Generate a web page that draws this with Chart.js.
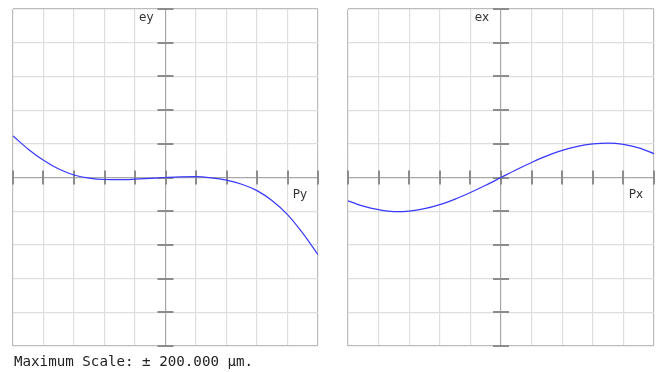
<!DOCTYPE html>
<html>
<head>
<meta charset="utf-8">
<script src="https://cdn.jsdelivr.net/npm/chart.js@4.4.1/dist/chart.umd.min.js"></script>
<style>
  body { margin: 0; background: #fff; width: 656px; height: 372px; position: relative; overflow: hidden; }
  .panel { position: absolute; top: 0; height: 356px; }
  #leftWrap { left: 0; width: 330px; }
  #rightWrap { left: 335px; width: 321px; }
  #caption {
    position: absolute; left: 14px; top: 353px;
    font-family: "DejaVu Sans Mono", monospace; font-size: 14.2px; color: #222;
    white-space: pre;
  }
</style>
</head>
<body>
<div class="panel" id="leftWrap"><canvas id="fanY"></canvas></div>
<div class="panel" id="rightWrap"><canvas id="fanX"></canvas></div>
<div id="caption">Maximum Scale: ± 200.000 µm.</div>
<script>
// normalized pupil coordinate (Py / Px)
const pupil = [-1.0, -0.9, -0.8, -0.7, -0.6, -0.5, -0.4, -0.3, -0.2, -0.1, 0.0,
               0.1, 0.2, 0.3, 0.4, 0.5, 0.6, 0.7, 0.8, 0.9, 1.0];

// tangential fan, ey (fraction of max scale)
const eyValues = [0.247, 0.168, 0.102, 0.050, 0.015, -0.004, -0.012, -0.013, -0.010, -0.005, 0.0,
                  0.004, 0.005, -0.002, -0.016, -0.040, -0.078, -0.138, -0.220, -0.330, -0.458];

// sagittal fan, ex (fraction of max scale)
const exValues = [-0.138, -0.170, -0.191, -0.202, -0.199, -0.185, -0.161, -0.128, -0.089, -0.046, 0.0,
                  0.046, 0.089, 0.128, 0.161, 0.185, 0.199, 0.204, 0.197, 0.176, 0.142];

const gridTicks = [-1, -0.8, -0.6, -0.4, -0.2, 0, 0.2, 0.4, 0.6, 0.8, 1];

function gridColor(c) {
  const v = c.tick ? c.tick.value : 0;
  if (Math.abs(v) < 1e-9) return '#a8a8a8';
  if (Math.abs(Math.abs(v) - 1) < 1e-9) return '#bcbcbc';
  return '#dedede';
}

const fanAxes = {
  id: 'fanAxes',
  beforeDatasetsDraw(chart, args, opts) {
    const { ctx, chartArea } = chart;
    const xs = chart.scales.x, ys = chart.scales.y;
    const x0 = xs.getPixelForValue(0), y0 = ys.getPixelForValue(0);
    ctx.save();
    ctx.strokeStyle = '#8c8c8c';
    ctx.lineWidth = 2;
    gridTicks.forEach(v => {
      const px = Math.round(xs.getPixelForValue(v));
      ctx.beginPath();
      ctx.moveTo(px, y0 - 7);
      ctx.lineTo(px, y0 + 7);
      ctx.stroke();
      const py = Math.round(ys.getPixelForValue(v));
      ctx.beginPath();
      ctx.moveTo(x0 - 8, py);
      ctx.lineTo(x0 + 8, py);
      ctx.stroke();
    });
    ctx.fillStyle = '#333';
    ctx.font = '12px "DejaVu Sans", sans-serif';
    ctx.textAlign = 'right';
    ctx.textBaseline = 'alphabetic';
    ctx.fillText(opts.yLabel, x0 - 12, chartArea.top + 12);
    ctx.fillText(opts.xLabel, chartArea.right - 11, y0 + 20);
    ctx.restore();
  }
};

function makeFan(id, values, xLabel, yLabel, pad) {
  return new Chart(document.getElementById(id), {
    type: 'line',
    data: {
      datasets: [{
        data: pupil.map((p, i) => ({ x: p, y: values[i] })),
        borderColor: '#3838ff',
        borderWidth: 1.2,
        pointRadius: 0,
        cubicInterpolationMode: 'monotone',
        fill: false
      }]
    },
    options: {
      responsive: true,
      maintainAspectRatio: false,
      animation: false,
      events: [],
      layout: { padding: pad },
      plugins: {
        legend: { display: false },
        tooltip: { enabled: false },
        fanAxes: { xLabel: xLabel, yLabel: yLabel }
      },
      scales: {
        x: {
          type: 'linear', min: -1, max: 1,
          afterBuildTicks: s => { s.ticks = gridTicks.map(v => ({ value: v })); },
          ticks: { display: false },
          border: { display: false },
          grid: { color: gridColor, lineWidth: 1.2, drawTicks: false }
        },
        y: {
          type: 'linear', min: -1, max: 1,
          afterBuildTicks: s => { s.ticks = gridTicks.map(v => ({ value: v })); },
          ticks: { display: false },
          border: { display: false },
          grid: { color: gridColor, lineWidth: 1.2, drawTicks: false }
        }
      }
    },
    plugins: [fanAxes]
  });
}

makeFan('fanY', eyValues, 'Py', 'ey', { left: 13, right: 12, top: 9, bottom: 10 });
makeFan('fanX', exValues, 'Px', 'ex', { left: 13, right: 2, top: 9, bottom: 10 });
</script>
</body>
</html>
